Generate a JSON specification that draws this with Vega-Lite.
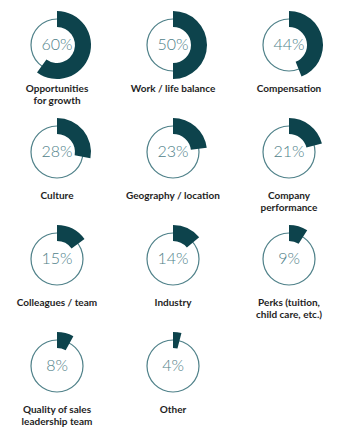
{
  "$schema": "https://vega.github.io/schema/vega-lite/v6.json",
  "padding": {"left": 7, "top": 9, "right": 0, "bottom": 0},
  "background": "white",
  "data": {"values": [
    {"order": 1, "label": "Opportunities|for growth", "pct": 0.60},
    {"order": 2, "label": "Work / life balance", "pct": 0.50},
    {"order": 3, "label": "Compensation", "pct": 0.44},
    {"order": 4, "label": "Culture", "pct": 0.28},
    {"order": 5, "label": "Geography / location", "pct": 0.23},
    {"order": 6, "label": "Company|performance", "pct": 0.21},
    {"order": 7, "label": "Colleagues / team", "pct": 0.15},
    {"order": 8, "label": "Industry", "pct": 0.14},
    {"order": 9, "label": "Perks (tuition,|child care, etc.)", "pct": 0.09},
    {"order": 10, "label": "Quality of sales|leadership team", "pct": 0.08},
    {"order": 11, "label": "Other", "pct": 0.04}
  ]},
  "facet": {
    "field": "label",
    "type": "nominal",
    "sort": {"field": "order", "op": "min"},
    "header": {
      "title": null,
      "labelOrient": "bottom",
      "labelExpr": "split(datum.value, '|')",
      "labelFont": "Lato",
      "labelFontSize": 10,
      "labelFontWeight": "bold",
      "labelColor": "#1e1e1e",
      "labelPadding": 3,
      "labelLineHeight": 12,
      "labelBaseline": "top"
    }
  },
  "columns": 3,
  "spacing": {"column": 16, "row": 10},
  "spec": {
    "width": 100,
    "height": 72,
    "view": {"stroke": null},
    "layer": [
      {
        "mark": {"type": "arc", "theta": 0, "theta2": 6.2832, "radius": 26.6, "radius2": 25.4, "color": "#4f8189"},
        "encoding": {}
      },
      {
        "mark": {"type": "arc", "radius": 34, "radius2": 18, "color": "#0d434c"},
        "encoding": {
          "theta": {"field": "pct", "type": "quantitative", "scale": {"domain": [0, 1]}}
        }
      },
      {
        "mark": {"type": "text", "font": "Lato", "fontWeight": 300, "fontSize": 16, "color": "#4f8189", "align": "center", "baseline": "middle"},
        "encoding": {
          "text": {"field": "pct", "type": "quantitative", "format": ".0%"}
        }
      }
    ]
  }
}
